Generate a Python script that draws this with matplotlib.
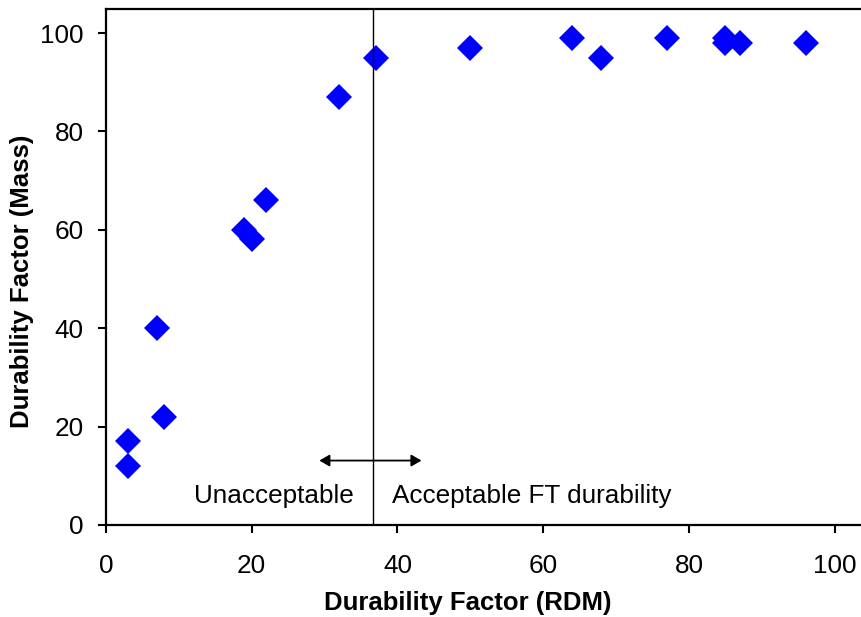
import matplotlib
matplotlib.use("Agg")
import matplotlib.pyplot as plt

# Data
rdm = [3, 3, 7, 8, 19, 20, 22, 32, 37, 50, 64, 68, 77, 85, 85, 87, 96]
mass = [17, 12, 40, 22, 60, 58.2, 66, 87, 95, 97, 99, 95, 99, 99, 98, 98, 98]
threshold = 36.6
arrow_span = (29.3, 43.3)
arrow_y = 13.1
x_ticks = [0, 20, 40, 60, 80, 100]
y_ticks = [0, 20, 40, 60, 80, 100]

plt.rcParams['font.family'] = ['Liberation Sans', 'DejaVu Sans']

fig = plt.figure(figsize=(8.61, 6.17), dpi=100)
ax = fig.add_axes([105.8 / 861, (617 - 525) / 617, 1 - 105.8 / 861, (525 - 9) / 617])

ax.plot(rdm, mass, linestyle='none', marker='D', markersize=13.5,
        color='#0000FF', markeredgewidth=0)

ax.axvline(threshold, color='black', lw=1.0)
ax.annotate('', xy=(arrow_span[1], arrow_y), xytext=(arrow_span[0], arrow_y),
            arrowprops=dict(arrowstyle='<|-|>,head_length=0.6,head_width=0.35',
                            color='black', lw=1.3, shrinkA=0, shrinkB=0))

ax.text(34.0, 5.8, 'Unacceptable', ha='right', va='center', fontsize=18.8)
ax.text(39.2, 5.8, 'Acceptable FT durability', ha='left', va='center', fontsize=18.8)

ax.set_xlim(0, 103.6)
ax.set_ylim(0, 104.9)
ax.set_xticks(x_ticks)
ax.set_yticks(y_ticks)

for s in ['left', 'bottom', 'top']:
    ax.spines[s].set_linewidth(1.6)
ax.spines['right'].set_visible(False)

ax.tick_params(axis='both', direction='out', length=6, width=1.5, labelsize=18.8)
ax.tick_params(axis='x', pad=15)
ax.tick_params(axis='y', pad=10)

fig.text(468 / 861, 1 - 603 / 617, 'Durability Factor (RDM)', ha='center', va='center',
         fontsize=18.5, fontweight='bold')
fig.text(22 / 861, 1 - 281 / 617, 'Durability Factor (Mass)', ha='center', va='center',
         fontsize=18.5, fontweight='bold', rotation=90)

fig.savefig('out.png', dpi=100)
